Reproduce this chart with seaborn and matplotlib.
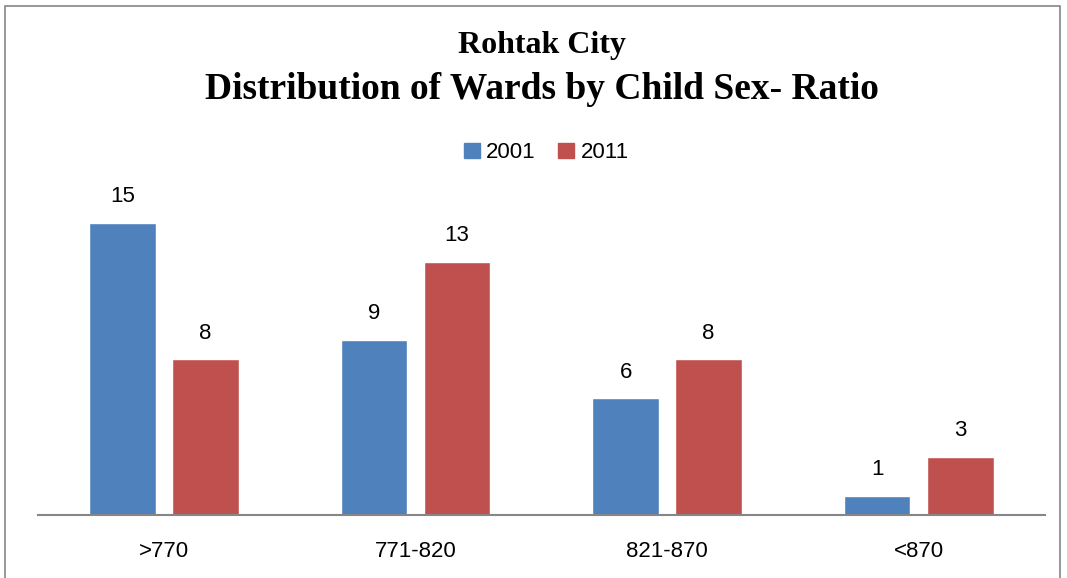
import matplotlib
matplotlib.use("Agg")
import matplotlib.pyplot as plt
import pandas as pd
import seaborn as sns
from matplotlib.patches import Rectangle

categories = [">770", "771-820", "821-870", "<870"]
years = ["2001", "2011"]
wards_2001 = [15, 9, 6, 1]
wards_2011 = [8, 13, 8, 3]
colors = ["#4F81BD", "#C0504D"]

sns.set_style("white")
plt.rcParams['font.family'] = ['Liberation Sans', 'DejaVu Sans']
plt.rcParams['text.color'] = 'black'
plt.rcParams['xtick.color'] = 'black'

df = pd.DataFrame({
    "Ratio": categories * 2,
    "Year": [years[0]] * 4 + [years[1]] * 4,
    "Wards": wards_2001 + wards_2011,
})

fig = plt.figure(figsize=(10.67, 5.78), dpi=100)
ax = fig.add_axes([0.0356, 0.109, 0.9434, 0.58])
sns.barplot(data=df, x="Ratio", y="Wards", hue="Year", palette=colors,
            width=0.66, gap=0.2, ax=ax, legend=False, saturation=1)

for cont in ax.containers:
    ax.bar_label(cont, padding=11, fontsize=16, color="black")

ax.set_ylim(0, 17.2)
ax.set_xlim(-0.5, 3.5)
ax.set_yticks([])
ax.set_xlabel("")
ax.set_ylabel("")
for s in ["top", "right", "left"]:
    ax.spines[s].set_visible(False)
ax.spines["bottom"].set_color("#868686")
ax.spines["bottom"].set_linewidth(1.5)
ax.tick_params(axis="x", length=0, labelsize=16, pad=19, labelcolor="black")

handles = [Rectangle((0, 0), 1, 1, color=c) for c in colors]
fig.legend(handles, years, loc="center", bbox_to_anchor=(0.512, 0.736),
           ncol=2, frameon=False, fontsize=16, handlelength=0.7,
           handleheight=0.7, handletextpad=0.3, columnspacing=1.0)

fig.text(0.508, 0.921, "Rohtak City", ha="center", va="center",
         fontsize=23, fontweight="bold", family="Liberation Serif")
fig.text(0.508, 0.846, "Distribution of Wards by Child Sex- Ratio",
         ha="center", va="center", fontsize=27, fontweight="bold",
         family="Liberation Serif")

fig.patches.append(Rectangle((0.005, -0.01), 0.988, 1.0, fill=False,
                             edgecolor="#868686", linewidth=1.2,
                             transform=fig.transFigure, figure=fig))

fig.savefig("out.png", dpi=100)
